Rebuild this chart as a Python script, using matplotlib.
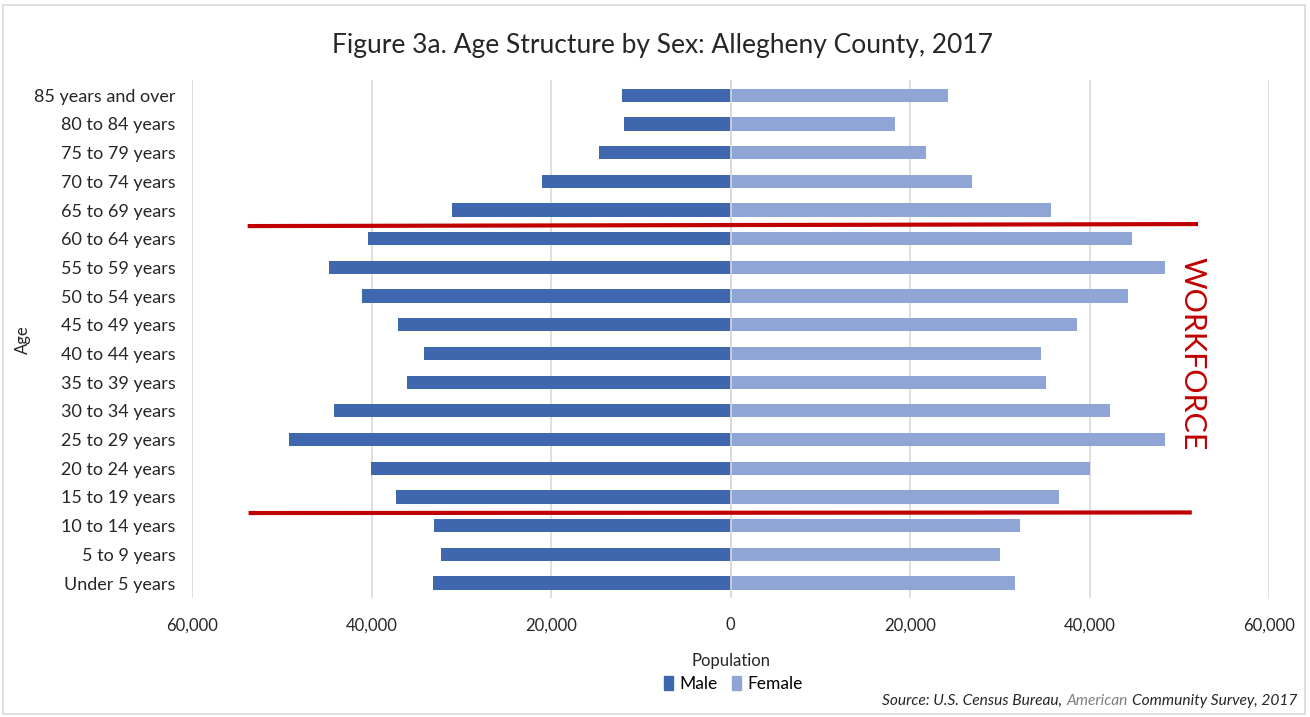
import matplotlib
matplotlib.use("Agg")
import matplotlib.pyplot as plt
from matplotlib.patches import Rectangle, Patch
from matplotlib.ticker import FuncFormatter

plt.rcParams["font.family"] = ["Lato", "DejaVu Sans"]

# Data
age_groups = [
    "Under 5 years", "5 to 9 years", "10 to 14 years", "15 to 19 years",
    "20 to 24 years", "25 to 29 years", "30 to 34 years", "35 to 39 years",
    "40 to 44 years", "45 to 49 years", "50 to 54 years", "55 to 59 years",
    "60 to 64 years", "65 to 69 years", "70 to 74 years", "75 to 79 years",
    "80 to 84 years", "85 years and over",
]
male = [33100, 32300, 33000, 37300, 40100, 49200, 44200, 36100, 34100,
        37000, 41100, 44700, 40400, 31000, 21000, 14700, 11900, 12100]
female = [31700, 30000, 32200, 36600, 40000, 48400, 42300, 35200, 34600,
          38600, 44300, 48400, 44700, 35700, 26900, 21800, 18300, 24200]
x_ticks = [-60000, -40000, -20000, 0, 20000, 40000, 60000]

MALE_COLOR = "#3E67AE"
FEMALE_COLOR = "#8FA5D6"
RED = "#C00000"

fig = plt.figure(figsize=(13.1, 7.17), dpi=100)
ax = fig.add_axes([0.1466, 0.166, 0.8221, 0.722])

y = list(range(len(age_groups)))
ax.barh(y, [-m for m in male], height=0.46, color=MALE_COLOR, zorder=3)
ax.barh(y, female, height=0.46, color=FEMALE_COLOR, zorder=3)

ax.set_xlim(-60000, 60000)
ax.set_ylim(-0.52, 17.52)
ax.set_xticks(x_ticks)
ax.xaxis.set_major_formatter(FuncFormatter(lambda v, p: f"{abs(int(v)):,}"))
ax.set_yticks(y)
ax.set_yticklabels(age_groups)
ax.tick_params(axis="both", length=0, colors="#262626")
ax.tick_params(axis="x", pad=14, labelsize=12)
ax.tick_params(axis="y", pad=12, labelsize=13)
ax.grid(axis="x", color="#D9D9D9", linewidth=1.2, zorder=0)
ax.axvline(0, color="#D9D9D9", linewidth=1.2, zorder=4)
for s in ax.spines.values():
    s.set_visible(False)

ax.set_xlabel("Population", fontsize=12, color="#262626", labelpad=14)
ax.set_ylabel("Age", fontsize=12, color="#262626")
ax.yaxis.set_label_coords(-0.15, 0.5)

fig.text(0.506, 0.937, "Figure 3a. Age Structure by Sex: Allegheny County, 2017",
         ha="center", va="center", fontsize=19, color="#262626")

# workforce band markers
ax.plot([-53800, 52100], [12.44, 12.51], color=RED, linewidth=3, zorder=5,
        solid_capstyle="butt", clip_on=False)
ax.plot([-53700, 51400], [2.44, 2.46], color=RED, linewidth=3, zorder=5,
        solid_capstyle="butt", clip_on=False)
ax.text(51500, 8.0, "WORKFORCE", rotation=-90, ha="center", va="center",
        fontsize=22, color=RED)

handles = [Patch(color=MALE_COLOR, label="Male"),
           Patch(color=FEMALE_COLOR, label="Female")]
fig.legend(handles=handles, loc="center", bbox_to_anchor=(0.56, 0.046),
           ncol=2, frameon=False, fontsize=12.5, handlelength=0.5,
           handleheight=0.9, handletextpad=0.4, columnspacing=0.8)

# source line, with "American" in grey
src_y = 0.023
src_size = 11.2
t1 = fig.text(0.99, src_y, "Community Survey, 2017", ha="right", va="center",
              fontsize=src_size, style="italic", color="#262626")
fig.canvas.draw()
bb = t1.get_window_extent().transformed(fig.transFigure.inverted())
t2 = fig.text(bb.x0 - 0.003, src_y, "American", ha="right", va="center",
              fontsize=src_size, style="italic", color="#7F7F7F")
fig.canvas.draw()
bb = t2.get_window_extent().transformed(fig.transFigure.inverted())
fig.text(bb.x0 - 0.003, src_y, "Source: U.S. Census Bureau,", ha="right",
         va="center", fontsize=src_size, style="italic", color="#262626")

fig.patches.append(Rectangle((0.002, 0.004), 0.994, 0.989, transform=fig.transFigure,
                             fill=False, edgecolor="#D9D9D9", linewidth=1.2))

fig.savefig("out.png", dpi=100)
